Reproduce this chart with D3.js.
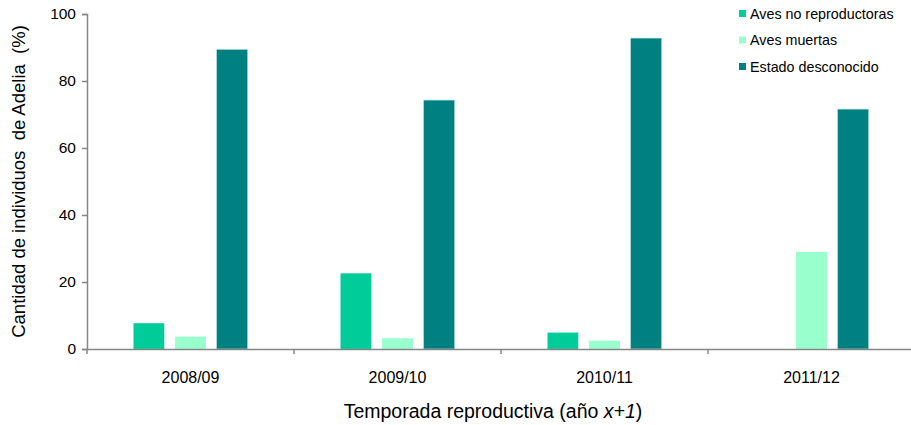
<!DOCTYPE html>
<html>
<head>
<meta charset="utf-8">
<script src="https://d3js.org/d3.v7.min.js"></script>
<style>
  body { margin: 0; background: #fff; }
  svg { font-family: "Liberation Sans", Arial, sans-serif; }
</style>
</head>
<body>
<svg width="911" height="425"></svg>
<script>
const seasons = ['2008/09', '2009/10', '2010/11', '2011/12'];
const seriesNames = ['Aves no reproductoras', 'Aves muertas', 'Estado desconocido'];
const noReproductoras = [7.7, 22.6, 4.9, 0];
const muertas = [3.7, 3.2, 2.5, 29];
const desconocido = [89.4, 74.3, 92.8, 71.6];
const yTicks = [0, 20, 40, 60, 80, 100];
const colors = ['#00cc99', '#99ffcc', '#008080'];

const svg = d3.select('svg');
const plotLeft = 87, plotRight = 915, plotTop = 14, plotBottom = 349;

const x = d3.scaleBand().domain(seasons).range([plotLeft, plotRight]);
const inner = d3.scaleBand().domain(seriesNames).range([46.5, x.bandwidth() - 46.5]).paddingInner(0.26).paddingOuter(0);
const y = d3.scaleLinear().domain([0, 100]).range([plotBottom, plotTop]);

const values = [noReproductoras, muertas, desconocido];

seriesNames.forEach((name, si) => {
  svg.append('g').selectAll('rect')
    .data(seasons)
    .join('rect')
    .attr('x', d => x(d) + inner(name))
    .attr('y', (d, i) => y(values[si][i]))
    .attr('width', inner.bandwidth())
    .attr('height', (d, i) => y(0) - y(values[si][i]))
    .attr('fill', colors[si])
    .attr('stroke', values[si] === desconocido ? '#9ad6d6' : 'none')
    .attr('stroke-width', 0.6);
});

// y axis
const yAxis = svg.append('g')
  .attr('transform', `translate(${plotLeft},0)`)
  .call(d3.axisLeft(y).tickValues(yTicks).tickSize(5).tickPadding(6));
yAxis.select('.domain').attr('stroke', '#868686').attr('stroke-width', 1.5);
yAxis.selectAll('.tick line').attr('stroke', '#868686').attr('stroke-width', 1.5);
yAxis.selectAll('text').attr('font-size', 15.5).attr('fill', '#000');

// x axis
const xAxis = svg.append('g')
  .attr('transform', `translate(0,${plotBottom})`)
  .call(d3.axisBottom(x).tickSize(0).tickPadding(22.5));
xAxis.select('.domain').attr('stroke', '#868686').attr('stroke-width', 1.5);
xAxis.selectAll('text').attr('font-size', 16).attr('fill', '#000');
xAxis.selectAll('.boundary')
  .data(seasons)
  .join('line')
  .attr('x1', d => x(d)).attr('x2', d => x(d))
  .attr('y1', 0).attr('y2', 5)
  .attr('stroke', '#868686').attr('stroke-width', 1.5);

// axis titles
svg.append('text')
  .attr('transform', `translate(25,${(plotTop + plotBottom) / 2}) rotate(-90)`)
  .attr('text-anchor', 'middle')
  .attr('font-size', 18.5)
  .attr('xml:space', 'preserve')
  .text('Cantidad de individuos  de Adelia  (%)');

const xt = svg.append('text')
  .attr('x', 493).attr('y', 418)
  .attr('text-anchor', 'middle')
  .attr('font-size', 19.5);
xt.append('tspan').text('Temporada reproductiva (año ');
xt.append('tspan').attr('font-style', 'italic').text('x+1');
xt.append('tspan').text(')');

// legend
const legend = svg.append('g').attr('transform', 'translate(739,10)');
seriesNames.forEach((name, i) => {
  const g = legend.append('g').attr('transform', `translate(0,${i * 26.5})`);
  g.append('rect').attr('width', 7).attr('height', 7).attr('fill', colors[i]);
  g.append('text').attr('x', 11).attr('y', 8.5).attr('font-size', 14.3).text(name);
});
</script>
</body>
</html>
